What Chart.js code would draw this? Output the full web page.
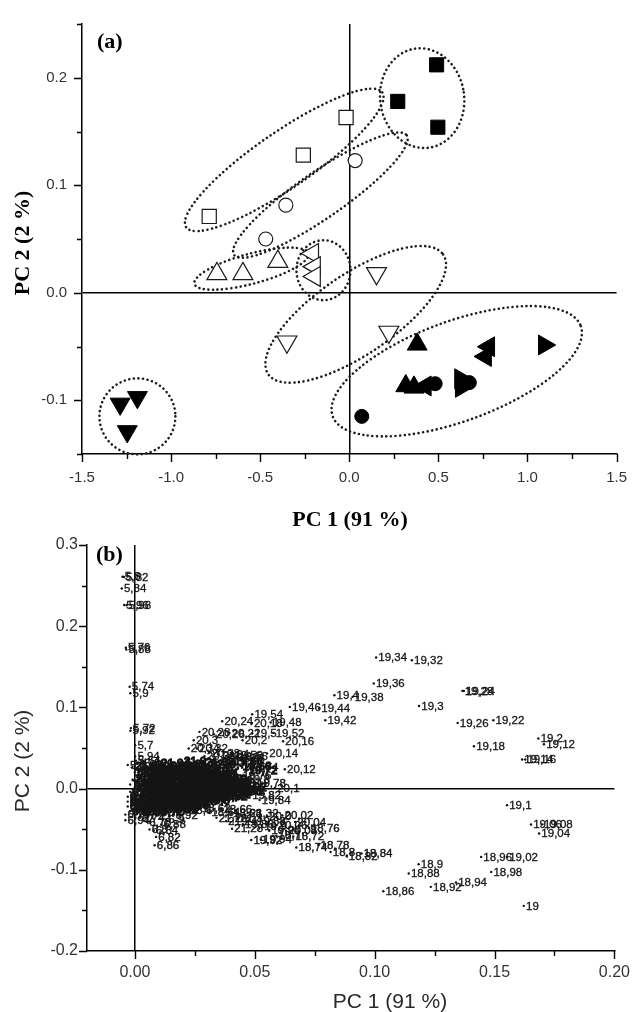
<!DOCTYPE html>
<html>
<head>
<meta charset="utf-8">
<script src="https://cdn.jsdelivr.net/npm/chart.js@4.4.1/dist/chart.umd.min.js"></script>
<style>
  html, body { margin: 0; padding: 0; background: #fff; }
  body { width: 642px; height: 1012px; position: relative; overflow: hidden; }
  #ca { position: absolute; left: 0; top: 0; }
  #cb { position: absolute; left: 0; top: 525px; }
</style>
</head>
<body>
<canvas id="ca" width="642" height="545"></canvas>
<canvas id="cb" width="642" height="487"></canvas>
<script>
// ---------- Panel (a): scores ----------
const sqFilled      = [[0.490, 0.212], [0.272, 0.178], [0.497, 0.154]];
const sqOpen        = [[-0.018, 0.163], [-0.258, 0.128], [-0.786, 0.071]];
const circOpen      = [[0.033, 0.123], [-0.356, 0.0815], [-0.469, 0.050]];
const triUpOpen     = [[-0.743, 0.0176], [-0.597, 0.0176], [-0.401, 0.029]];
const triLeftOpen   = [[-0.205, 0.0365], [-0.195, 0.0243], [-0.195, 0.0152]];
const triDownOpen   = [[0.153, 0.018], [0.222, -0.0365], [-0.350, -0.0456]];
const triDownFilled = [[-1.286, -0.1034], [-1.189, -0.0973], [-1.246, -0.129]];
const triUpFilled   = [[0.381, -0.048], [0.317, -0.0867], [0.363, -0.088]];
const circFilled    = [[0.070, -0.115], [0.482, -0.0846], [0.674, -0.0836]];
const triRightFilled= [[0.624, -0.080], [0.628, -0.088], [1.094, -0.0486]];
const triLeftFilled = [[0.783, -0.0502], [0.765, -0.0593], [0.427, -0.0867]];

// group outlines (centre in data units)
const groupCentresX = [0.409, -0.365, -0.162, -0.549, -0.145, 0.036, 0.603, -1.189];
const groupCentresY = [0.181, 0.1236, 0.0908, 0.0224, 0.021, -0.0201, -0.073, -0.115];

// tick settings
const ticksA = { xMin: -1.5, xMax: 1.5, xStep: 0.25, xLabelEvery: 0.5, yMin: -0.15, yMax: 0.25, yStep: 0.05, yLabelEvery: 0.1 };
const ticksB = { xMin: -0.02, xMax: 0.20, xStep: 0.025, xLabelEvery: 0.05, yMin: -0.2, yMax: 0.3, yStep: 0.05, yLabelEvery: 0.1 };

// ---------- Panel (b): loadings  [label, PC1, PC2] ----------
const earlyLoadings = [
  ['5,8', -0.0052, 0.261], ['5,82', -0.0046, 0.2605], ['5,84', -0.0055, 0.2465],
  ['5,96', -0.0045, 0.2262], ['5,98', -0.0035, 0.2258], ['5,76', -0.0038, 0.1735],
  ['5,88', -0.0036, 0.1712], ['5,74', -0.0022, 0.1255], ['5,9', -0.0019, 0.1175],
  ['5,72', -0.0017, 0.0745], ['5,92', -0.0019, 0.0712], ['5,7', 0.0001, 0.0535],
  ['5,94', 0.0001, 0.0395], ['5,64', 0.0004, 0.0345], ['5,66', 0.0010, 0.0305],
  ['5,68', 0.0030, 0.0315], ['5,6', -0.0030, 0.0290]
];
const clusterLoadings = [
  ['21,84', -0.001, 0.027], ['6,04', 0.005, 0.025], ['21,82', 0.011, 0.027], ['21,8', 0.017, 0.026], ['21,78', 0.023, 0.028], ['21,76', 0.028, 0.025],
  ['6,06', 0.000, 0.020], ['6,08', 0.004, 0.021], ['21,74', 0.009, 0.019], ['21,72', 0.013, 0.021], ['21,7', 0.018, 0.020], ['21,68', 0.022, 0.019], ['21,66', 0.026, 0.021], ['21,64', 0.030, 0.019],
  ['6,1', 0.001, 0.014], ['6,12', 0.005, 0.015], ['6,14', 0.009, 0.013], ['21,62', 0.014, 0.015], ['21,6', 0.018, 0.014], ['21,58', 0.022, 0.013], ['21,56', 0.026, 0.015], ['21,54', 0.030, 0.014], ['21,52', 0.034, 0.012],
  ['6,16', 0.000, 0.008], ['6,18', 0.004, 0.009], ['6,2', 0.008, 0.007], ['6,22', 0.012, 0.009], ['21,5', 0.016, 0.008], ['21,48', 0.021, 0.007], ['21,46', 0.025, 0.009], ['21,44', 0.029, 0.008], ['21,42', 0.034, 0.007], ['21,4', 0.038, 0.009],
  ['6,24', 0.001, 0.002], ['6,28', 0.005, 0.003], ['6,3', 0.009, 0.001], ['6,32', 0.013, 0.002], ['21,38', 0.017, 0.003], ['21,36', 0.021, 0.001], ['21,34', 0.026, 0.002], ['20,98', 0.030, 0.003], ['20,96', 0.034, 0.001], ['20,94', 0.038, 0.002], ['20,92', 0.042, 0.001],
  ['6,34', -0.002, -0.004], ['6,36', 0.002, -0.003], ['6,38', 0.006, -0.005], ['6,4', 0.010, -0.004], ['6,42', 0.014, -0.003], ['21,22', 0.018, -0.005], ['21,2', 0.023, -0.004], ['21,18', 0.027, -0.003], ['20,9', 0.031, -0.005], ['20,88', 0.036, -0.004], ['20,86', 0.040, -0.003],
  ['6,44', -0.003, -0.010], ['6,46', 0.001, -0.009], ['6,48', 0.005, -0.011], ['6,5', 0.009, -0.010], ['6,52', 0.013, -0.009], ['21,16', 0.017, -0.011], ['21,14', 0.021, -0.010], ['21,12', 0.026, -0.009], ['20,84', 0.030, -0.011], ['20,82', 0.034, -0.010],
  ['6,54', -0.003, -0.016], ['6,56', 0.001, -0.017], ['6,58', 0.005, -0.015], ['18,5', 0.009, -0.016], ['18,52', 0.014, -0.017], ['21,1', 0.019, -0.015], ['20,8', 0.024, -0.016],
  ['6,6', -0.003, -0.022], ['6,62', 0.002, -0.023], ['6,64', 0.006, -0.021], ['18,54', 0.010, -0.022], ['18,56', 0.014, -0.023], ['18,58', 0.018, -0.021],
  ['6,66', -0.002, -0.028], ['6,68', 0.003, -0.029], ['6,7', 0.007, -0.027], ['6,72', 0.010, -0.028],
  ['21,9', 0.0195, 0.033], ['21,92', 0.024, 0.030], ['21,88', 0.0285, 0.032], ['21,86', 0.014, 0.028], ['21,94', 0.010, 0.031],
  ['19,7', 0.036, 0.030], ['19,68', 0.0405, 0.034], ['19,66', 0.044, 0.028], ['19,72', 0.0465, 0.022]
];
const clusterLoadings2 = [
  ['7,02', 0.002, 0.023], ['7,04', 0.008, 0.024], ['7,06', 0.014, 0.022], ['7,08', 0.020, 0.024], ['7,1', 0.025, 0.022],
  ['7,12', 0.002, 0.017], ['7,14', 0.007, 0.018], ['7,16', 0.011, 0.016], ['7,18', 0.016, 0.018], ['7,2', 0.020, 0.016], ['7,22', 0.024, 0.018], ['7,24', 0.028, 0.016], ['7,26', 0.032, 0.017],
  ['7,28', -0.001, 0.011], ['7,3', 0.003, 0.012], ['7,32', 0.007, 0.010], ['7,34', 0.011, 0.011], ['7,36', 0.016, 0.012], ['7,38', 0.020, 0.010], ['7,4', 0.024, 0.011], ['7,42', 0.028, 0.012], ['7,44', 0.032, 0.010], ['7,46', 0.036, 0.011],
  ['7,48', -0.002, 0.005], ['7,5', 0.002, 0.006], ['7,52', 0.006, 0.004], ['7,54', 0.010, 0.005], ['7,56', 0.014, 0.006], ['7,58', 0.019, 0.004], ['7,6', 0.023, 0.005], ['7,62', 0.027, 0.006], ['7,64', 0.031, 0.004], ['7,66', 0.036, 0.005], ['7,68', 0.040, 0.006],
  ['7,7', -0.001, -0.001], ['7,72', 0.003, 0.000], ['7,74', 0.007, -0.002], ['7,76', 0.011, -0.001], ['7,78', 0.015, 0.000], ['7,8', 0.019, -0.002], ['7,82', 0.024, -0.001], ['7,84', 0.028, 0.000], ['7,86', 0.032, -0.002], ['7,88', 0.036, -0.001], ['7,9', 0.040, 0.000], ['7,92', 0.044, -0.002],
  ['7,94', 0.000, -0.007], ['7,96', 0.004, -0.006], ['7,98', 0.008, -0.008], ['8,0', 0.012, -0.007], ['8,02', 0.016, -0.006], ['8,04', 0.020, -0.008], ['8,06', 0.025, -0.007], ['8,08', 0.029, -0.006], ['8,1', 0.033, -0.008], ['8,12', 0.038, -0.007],
  ['8,14', -0.001, -0.013], ['8,16', 0.003, -0.012], ['8,18', 0.007, -0.014], ['8,2', 0.011, -0.013], ['8,22', 0.015, -0.012], ['8,24', 0.019, -0.014], ['8,26', 0.023, -0.013], ['8,28', 0.028, -0.012], ['8,3', 0.032, -0.014],
  ['8,32', -0.001, -0.019], ['8,34', 0.003, -0.020], ['8,36', 0.007, -0.018], ['8,38', 0.011, -0.019], ['8,4', 0.016, -0.020], ['8,42', 0.021, -0.018],
  ['8,44', -0.001, -0.025], ['8,46', 0.004, -0.026], ['8,48', 0.008, -0.024], ['8,5', 0.012, -0.025], ['8,52', 0.016, -0.026]
];
const fringeLoadings = [
  ['6,74', 0.002, -0.036], ['6,76', -0.004, -0.032], ['6,78', 0.005, -0.041], ['6,8', 0.0061, -0.0504],
  ['6,84', 0.0078, -0.052], ['6,82', 0.0088, -0.0595], ['6,86', 0.0082, -0.0697], ['6,88', 0.011, -0.044],
  ['6,9', 0.013, -0.038], ['6,92', 0.016, -0.033], ['6,94', -0.004, -0.039],
  ['19,74', 0.0469, 0.0267], ['19,76', 0.044, 0.016], ['19,8', 0.046, 0.011], ['19,78', 0.050, 0.006],
  ['19,82', 0.048, -0.008], ['19,84', 0.052, -0.014]
];
const upperLoadings = [
  ['19,54', 0.0489, 0.0916], ['20,24', 0.0364, 0.083], ['20,18', 0.0487, 0.0802], ['19,48', 0.0566, 0.0814],
  ['19,46', 0.0646, 0.1006], ['19,44', 0.0768, 0.0986], ['19,42', 0.0794, 0.0842], ['19,4', 0.0832, 0.115],
  ['19,38', 0.0908, 0.113], ['19,36', 0.0996, 0.1294], ['19,34', 0.1006, 0.1614], ['19,32', 0.1155, 0.158],
  ['20,28', 0.0269, 0.0699], ['20,26', 0.0329, 0.067], ['20,22', 0.0394, 0.0686], ['20,2', 0.0449, 0.0596],
  ['19,5', 0.0489, 0.0678], ['19,52', 0.0578, 0.0686], ['20,16', 0.0618, 0.0584], ['20,3', 0.0245, 0.0596],
  ['20,34', 0.0224, 0.0494], ['20,32', 0.0258, 0.0494], ['19,64', 0.0347, 0.0424], ['19,62', 0.0387, 0.039],
  ['19,58', 0.0405, 0.041], ['19,56', 0.0425, 0.0395], ['19,6', 0.044, 0.037], ['20,14', 0.0551, 0.0432],
  ['20,12', 0.0625, 0.0239], ['20,1', 0.0584, 0.0009], ['20,36', 0.0290, 0.040], ['20,38', 0.0310, 0.044]
];
const lowerLoadings = [
  ['18,6', 0.022, -0.027], ['18,62', 0.027, -0.024], ['18,64', 0.031, -0.029], ['18,66', 0.036, -0.026],
  ['18,68', 0.040, -0.031], ['21,26', 0.034, -0.036], ['21,24', 0.038, -0.040], ['21,3', 0.043, -0.036],
  ['21,32', 0.047, -0.030], ['19,86', 0.045, -0.044], ['19,88', 0.050, -0.040], ['19,9', 0.053, -0.046],
  ['21,28', 0.0405, -0.0495], ['19,92', 0.0485, -0.0633], ['19,94', 0.0525, -0.063], ['19,96', 0.056, -0.052],
  ['20,0', 0.055, -0.034], ['20,02', 0.0615, -0.033], ['20,04', 0.0668, -0.041], ['20,06', 0.059, -0.045],
  ['20,08', 0.063, -0.052], ['18,7', 0.059, -0.058], ['18,72', 0.0660, -0.0590], ['18,74', 0.0673, -0.0726],
  ['18,76', 0.0725, -0.0485], ['18,78', 0.0765, -0.0695], ['18,8', 0.0816, -0.078], ['18,82', 0.0883, -0.083],
  ['18,84', 0.0945, -0.080]
];
const outerLoadings = [
  ['19,3', 0.1185, 0.1018], ['19,28', 0.1366, 0.1203], ['19,24', 0.1372, 0.1203], ['19,26', 0.1346, 0.0809],
  ['19,22', 0.1495, 0.0842], ['19,18', 0.1414, 0.0522], ['19,2', 0.1683, 0.0617], ['19,12', 0.1706, 0.0547],
  ['19,14', 0.1615, 0.0358], ['19,16', 0.1628, 0.0358], ['19,1', 0.1552, -0.0204], ['19,06', 0.1652, -0.0443],
  ['19,08', 0.1697, -0.0443], ['19,04', 0.1686, -0.0553], ['19,02', 0.1552, -0.0841], ['18,96', 0.1444, -0.0841],
  ['18,98', 0.1486, -0.1026], ['19', 0.1622, -0.1444], ['18,9', 0.1183, -0.0931], ['18,88', 0.1142, -0.1046],
  ['18,86', 0.1036, -0.1264], ['18,92', 0.1234, -0.121], ['18,94', 0.1339, -0.1157]
];

// ---------- helpers ----------
const SANS = "'Liberation Sans', Arial, sans-serif";
const SERIF = "'Liberation Serif', 'Times New Roman', serif";
const toXY = arr => arr.map(p => ({ x: p[0], y: p[1] }));
const toLbl = arr => arr.map(p => ({ x: p[1], y: p[2], t: p[0] }));
function isMultiple(v, m) { const r = v / m; return Math.abs(r - Math.round(r)) < 1e-6; }
function fmt(v, every, digits) { if (Math.abs(v) < 1e-9) v = 0; return isMultiple(v, every) ? v.toFixed(digits) : ''; }
const zeroGrid = c => (Math.abs(c.tick.value) < 1e-9 ? '#000' : 'rgba(0,0,0,0)');

const tickMarks = {
  id: 'tickMarks',
  afterDraw(chart, args, o) {
    const ctx = chart.ctx, xs = chart.scales.x, ys = chart.scales.y;
    ctx.save(); ctx.strokeStyle = '#000'; ctx.lineWidth = 1.4;
    ctx.beginPath();
    xs.ticks.forEach(t => {
      if (!isMultiple(t.value, o.xStep)) return;
      const p = Math.round(xs.getPixelForValue(t.value)) + 0.5;
      const L = t.label ? o.major : o.minor;
      ctx.moveTo(p, xs.top); ctx.lineTo(p, xs.top + L);
    });
    ys.ticks.forEach(t => {
      if (!isMultiple(t.value, o.yStep)) return;
      const p = Math.round(ys.getPixelForValue(t.value)) + 0.5;
      const L = t.label ? o.major : o.minor;
      ctx.moveTo(ys.right, p); ctx.lineTo(ys.right - L, p);
    });
    ctx.stroke(); ctx.restore();
  }
};

const panelText = {
  id: 'panelText',
  afterDraw(chart, args, o) {
    const ctx = chart.ctx;
    (o.items || []).forEach(it => {
      ctx.save();
      ctx.font = it.font; ctx.fillStyle = it.color || '#000';
      ctx.textAlign = it.align || 'center'; ctx.textBaseline = 'middle';
      ctx.translate(it.x, it.y);
      if (it.rotate) ctx.rotate(it.rotate * Math.PI / 180);
      ctx.fillText(it.text, 0, 0);
      ctx.restore();
    });
  }
};

const groupOutlines = {
  id: 'groupOutlines',
  beforeDatasetsDraw(chart, args, o) {
    if (!o.shapes) return;
    const ctx = chart.ctx, xs = chart.scales.x, ys = chart.scales.y;
    ctx.save();
    ctx.strokeStyle = '#1c1c1c'; ctx.lineWidth = 2.6; ctx.lineCap = 'round';
    ctx.setLineDash([0.01, 4.6]);
    o.shapes.forEach((s, i) => {
      const cx = xs.getPixelForValue(groupCentresX[i]);
      const cy = ys.getPixelForValue(groupCentresY[i]);
      ctx.beginPath();
      ctx.ellipse(cx, cy, s.rx, s.ry, s.rot * Math.PI / 180, 0, Math.PI * 2);
      ctx.stroke();
    });
    ctx.restore();
  }
};

const pointLabels = {
  id: 'pointLabels',
  afterDatasetsDraw(chart, args, o) {
    if (!o.enabled) return;
    const ctx = chart.ctx;
    ctx.save();
    ctx.font = o.font; ctx.fillStyle = o.color; ctx.strokeStyle = o.color;
    ctx.textAlign = 'left'; ctx.textBaseline = 'middle';
    chart.data.datasets.forEach((ds, di) => {
      const meta = chart.getDatasetMeta(di);
      const heavy = ds.labelStroke || 0;
      ctx.lineWidth = heavy;
      meta.data.forEach((el, i) => {
        const d = ds.data[i];
        if (!d || !d.t) return;
        ctx.fillText(d.t, el.x + 2.2, el.y + 0.5);
        if (heavy) ctx.strokeText(d.t, el.x + 2.2, el.y + 0.5);
      });
    });
    ctx.restore();
  }
};
Chart.register(tickMarks, panelText, groupOutlines, pointLabels);

function openStyle(style, r, rot) {
  return { pointStyle: style, pointRadius: r, pointHoverRadius: r, rotation: rot || 0,
           backgroundColor: '#ffffff', borderColor: '#1a1a1a', borderWidth: 1.2 };
}
function filledStyle(style, r, rot) {
  return { pointStyle: style, pointRadius: r, pointHoverRadius: r, rotation: rot || 0,
           backgroundColor: '#000000', borderColor: '#000000', borderWidth: 1 };
}

function axisOpts(t, axis, size, pad, extra) {
  const isX = axis === 'x';
  return Object.assign({
    type: 'linear',
    min: isX ? t.xMin : t.yMin, max: isX ? t.xMax : t.yMax,
    ticks: {
      stepSize: isX ? t.xStep : t.yStep, includeBounds: false, autoSkip: false, maxRotation: 0,
      font: { family: SANS, size: size }, color: '#333', padding: pad,
      callback: v => fmt(v, isX ? t.xLabelEvery : t.yLabelEvery, isX && t.xLabelEvery < 0.1 ? 2 : 1)
    },
    grid: { color: zeroGrid, lineWidth: 1.5, drawTicks: false },
    border: { display: true, color: '#000', width: 1.5 }
  }, extra);
}

// ---------- Chart (a) ----------
new Chart(document.getElementById('ca'), {
  type: 'scatter',
  data: {
    datasets: [
      Object.assign({ data: toXY(sqFilled) }, filledStyle('rect', 10)),
      Object.assign({ data: toXY(sqOpen) }, openStyle('rect', 10)),
      Object.assign({ data: toXY(circOpen) }, openStyle('circle', 7)),
      Object.assign({ data: toXY(triUpOpen) }, openStyle('triangle', 11.5, 0)),
      Object.assign({ data: toXY(triLeftOpen) }, openStyle('triangle', 11.5, -90)),
      Object.assign({ data: toXY(triDownOpen) }, openStyle('triangle', 11.5, 180)),
      Object.assign({ data: toXY(triDownFilled) }, filledStyle('triangle', 11.5, 180)),
      Object.assign({ data: toXY(triUpFilled) }, filledStyle('triangle', 11.5, 0)),
      Object.assign({ data: toXY(circFilled) }, filledStyle('circle', 7)),
      Object.assign({ data: toXY(triRightFilled) }, filledStyle('triangle', 11.5, 90)),
      Object.assign({ data: toXY(triLeftFilled) }, filledStyle('triangle', 11.5, -90))
    ]
  },
  options: {
    responsive: false, animation: false, devicePixelRatio: 1,
    layout: { padding: { left: 0, right: 13, top: 15, bottom: 0 } },
    plugins: {
      legend: { display: false }, tooltip: { enabled: false },
      tickMarks: { major: 8, minor: 5, xStep: ticksA.xStep, yStep: ticksA.yStep },
      groupOutlines: { shapes: [
        { rx: 42, ry: 50, rot: -8 },
        { rx: 119, ry: 28, rot: -34.5 },
        { rx: 105, ry: 23, rot: -34.7 },
        { rx: 59, ry: 15, rot: -15 },
        { rx: 27, ry: 30, rot: 0 },
        { rx: 106, ry: 40, rot: -34.4 },
        { rx: 132, ry: 50, rot: -20 },
        { rx: 38, ry: 38, rot: 0 }
      ] },
      panelText: { items: [
        { text: '(a)', x: 97, y: 42, align: 'left', font: 'bold 22px ' + SERIF },
        { text: 'PC 1 (91 %)', x: 350, y: 520, font: 'bold 22px ' + SERIF },
        { text: 'PC 2 (2 %)', x: 23, y: 243, rotate: -90, font: 'bold 22px ' + SERIF }
      ] }
    },
    scales: {
      x: axisOpts(ticksA, 'x', 15, 15, { afterFit: s => { s.height = 91; } }),
      y: axisOpts(ticksA, 'y', 15, 15, { afterFit: s => { s.width = 82; } })
    }
  }
});

// ---------- Chart (b) ----------
const dotStyle = { pointStyle: 'circle', pointRadius: 1.2, pointHoverRadius: 1.2, backgroundColor: '#111', borderWidth: 0 };
new Chart(document.getElementById('cb'), {
  type: 'scatter',
  data: {
    datasets: [
      Object.assign({ data: toLbl(earlyLoadings), labelStroke: 0.3 }, dotStyle),
      Object.assign({ data: toLbl(clusterLoadings), labelStroke: 1.3 }, dotStyle),
      Object.assign({ data: toLbl(clusterLoadings2), labelStroke: 1.3 }, dotStyle),
      Object.assign({ data: toLbl(fringeLoadings), labelStroke: 0.4 }, dotStyle),
      Object.assign({ data: toLbl(upperLoadings), labelStroke: 0.3 }, dotStyle),
      Object.assign({ data: toLbl(lowerLoadings), labelStroke: 0.4 }, dotStyle),
      Object.assign({ data: toLbl(outerLoadings), labelStroke: 0.3 }, dotStyle)
    ]
  },
  options: {
    responsive: false, animation: false, devicePixelRatio: 1,
    layout: { padding: { left: 0, right: 17, top: 20, bottom: 0 } },
    plugins: {
      legend: { display: false }, tooltip: { enabled: false },
      tickMarks: { major: 8, minor: 5, xStep: ticksB.xStep, yStep: ticksB.yStep },
      pointLabels: { enabled: true, font: '11.5px ' + SANS, color: '#151515' },
      panelText: { items: [
        { text: '(b)', x: 96, y: 30, align: 'left', font: 'bold 22px ' + SERIF },
        { text: 'PC 1 (91 %)', x: 390, y: 477, font: '21px ' + SANS, color: '#2a2a2a' },
        { text: 'PC 2 (2 %)', x: 23, y: 236, rotate: -90, font: '21px ' + SANS, color: '#2a2a2a' }
      ] }
    },
    scales: {
      x: axisOpts(ticksB, 'x', 16, 12, { afterFit: s => { s.height = 61; } }),
      y: axisOpts(ticksB, 'y', 16, 9, { afterFit: s => { s.width = 87; } })
    }
  }
});
</script>
</body>
</html>
